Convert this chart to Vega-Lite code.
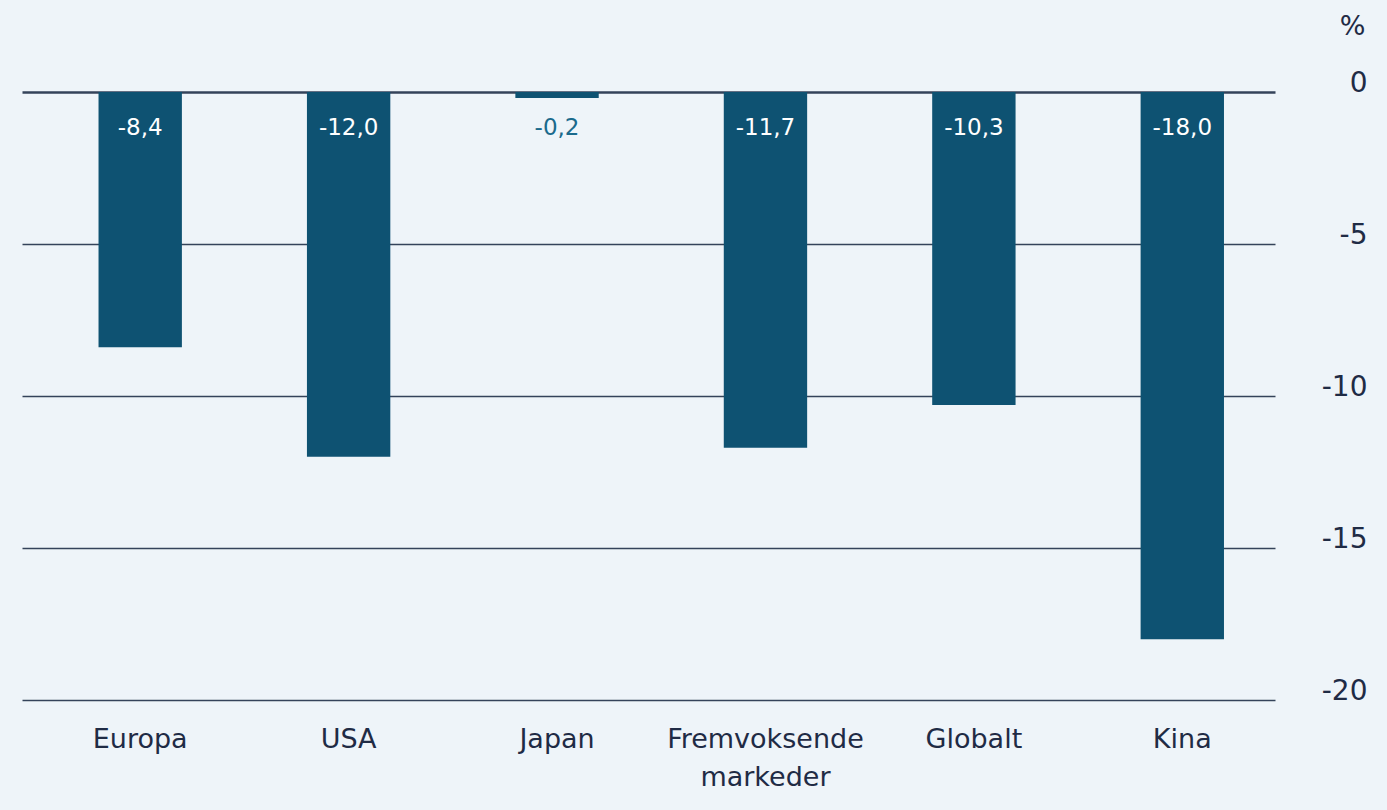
{
  "$schema": "https://vega.github.io/schema/vega-lite/v6.json",
  "autosize": "none",
  "width": 1253,
  "height": 608,
  "padding": {"left": 22, "top": 92, "right": 112, "bottom": 110},
  "background": "#eef4f9",
  "config": {
    "view": {"stroke": null},
    "font": "DejaVu Sans"
  },
  "data": {
    "values": [
      {"region": "Europa", "value": -8.4, "label": "-8,4"},
      {"region": "USA", "value": -12.0, "label": "-12,0"},
      {"region": "Japan", "value": -0.2, "label": "-0,2"},
      {"region": "Fremvoksende markeder", "value": -11.7, "label": "-11,7"},
      {"region": "Globalt", "value": -10.3, "label": "-10,3"},
      {"region": "Kina", "value": -18.0, "label": "-18,0"}
    ]
  },
  "encoding": {
    "x": {
      "field": "region",
      "type": "nominal",
      "sort": null,
      "scale": {"paddingInner": 0.6, "paddingOuter": 0.306, "align": 0.6},
      "axis": {
        "title": null,
        "domain": false,
        "ticks": false,
        "labelAngle": 0,
        "labelFontSize": 27,
        "labelLimit": 0,
        "labelColor": "#1f2b45",
        "labelPadding": 26,
        "labelLineHeight": 38,
        "labelExpr": "datum.value == 'Fremvoksende markeder' ? ['Fremvoksende', 'markeder'] : datum.value"
      }
    }
  },
  "layer": [
    {
      "mark": {"type": "bar", "color": "#0e5272"},
      "encoding": {
        "y": {
          "field": "value",
          "type": "quantitative",
          "scale": {"domain": [-20, 0], "nice": false},
          "axis": {
            "orient": "right",
            "values": [0, -5, -10, -15, -20],
            "domain": false,
            "ticks": false,
            "grid": true,
            "gridColor": "#34435a",
            "gridWidth": {"condition": {"test": "datum.value === 0", "value": 2.5}, "value": 1.5},
            "gridOpacity": 1,
            "labelExpr": "replace(datum.label, '−', '-')",
            "labelFontSize": 28,
            "labelColor": "#1f2b45",
            "labelAlign": "right",
            "labelBaseline": "middle",
            "labelPadding": 92,
            "labelOffset": -9,
            "title": "%",
            "titleAngle": 0,
            "titleFontSize": 27,
            "titleFontWeight": "normal",
            "titleColor": "#1f2b45",
            "titleX": 77,
            "titleY": -66,
            "titleAlign": "center",
            "titleBaseline": "middle"
          }
        },
        "y2": {"datum": 0}
      }
    },
    {
      "mark": {"type": "text", "fontSize": 23, "baseline": "middle", "align": "center", "dy": 36},
      "encoding": {
        "y": {"datum": 0},
        "text": {"field": "label"},
        "color": {
          "condition": {"test": "datum.value > -1", "value": "#1a6a8c"},
          "value": "#ffffff"
        }
      }
    }
  ]
}
